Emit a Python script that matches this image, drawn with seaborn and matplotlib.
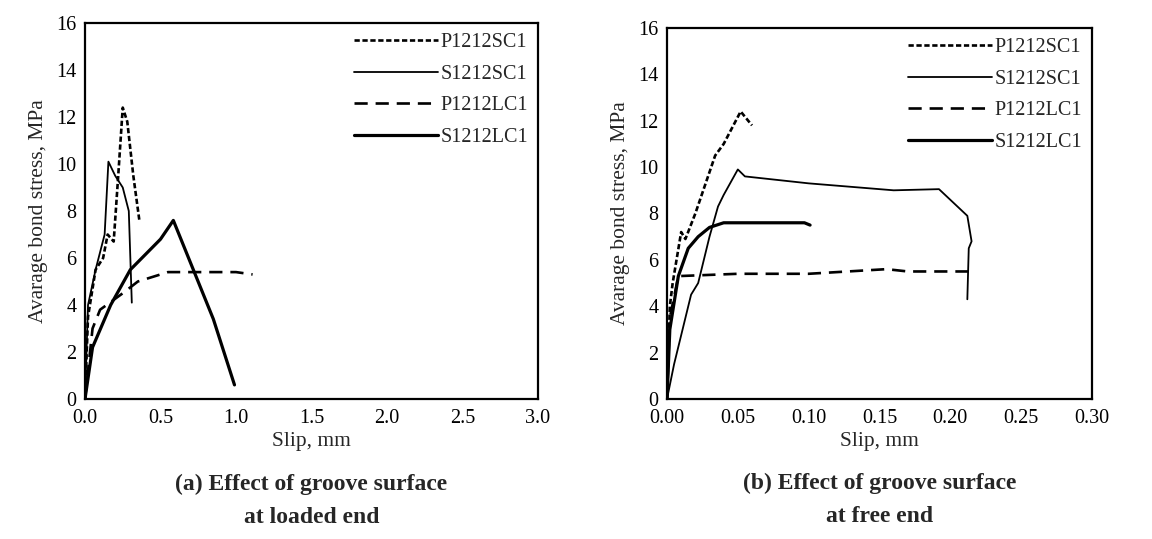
import matplotlib
matplotlib.use("Agg")
import matplotlib.pyplot as plt
import seaborn as sns
import pandas as pd

sns.set_theme(style="white")
plt.rcParams['font.family'] = ['Liberation Serif', 'DejaVu Serif']

labels = ["P1212SC1", "S1212SC1", "P1212LC1", "S1212LC1"]

# (a) loaded end
a_p_sc_x = [0.0, 0.02, 0.07, 0.12, 0.15, 0.19, 0.22, 0.25, 0.28, 0.32, 0.36]
a_p_sc_y = [0.0, 3.5, 5.5, 6.0, 7.0, 6.7, 9.5, 12.4, 11.8, 9.5, 7.6]
a_s_sc_x = [0.0, 0.02, 0.07, 0.13, 0.155, 0.2, 0.25, 0.29, 0.31]
a_s_sc_y = [0.0, 4.0, 5.5, 7.0, 10.1, 9.5, 9.0, 8.0, 4.1]
a_p_lc_x = [0.0, 0.05, 0.1, 0.25, 0.35, 0.55, 0.8, 1.0, 1.11]
a_p_lc_y = [0.0, 3.0, 3.8, 4.5, 5.0, 5.4, 5.4, 5.4, 5.3]
a_s_lc_x = [0.0, 0.05, 0.17, 0.3, 0.5, 0.585, 0.85, 0.99]
a_s_lc_y = [0.0, 2.2, 4.0, 5.5, 6.8, 7.6, 3.4, 0.6]

# (b) free end
b_p_sc_x = [0.0, 0.002, 0.004, 0.01, 0.013, 0.02, 0.034, 0.04, 0.052, 0.06]
b_p_sc_y = [0.0, 4.0, 5.0, 7.2, 6.9, 8.0, 10.5, 11.0, 12.4, 11.8]
b_s_sc_x = [0.0, 0.005, 0.017, 0.022, 0.03, 0.036, 0.04, 0.05, 0.055, 0.1,
            0.16, 0.192, 0.212, 0.215, 0.213, 0.212]
b_s_sc_y = [0.0, 1.5, 4.5, 5.0, 7.0, 8.3, 8.8, 9.9, 9.6, 9.3,
            9.0, 9.05, 7.9, 6.8, 6.5, 4.3]
b_p_lc_x = [0.0, 0.002, 0.008, 0.05, 0.1, 0.155, 0.17, 0.215]
b_p_lc_y = [0.0, 3.5, 5.3, 5.4, 5.4, 5.6, 5.5, 5.5]
b_s_lc_x = [0.0, 0.002, 0.008, 0.015, 0.022, 0.03, 0.04, 0.08, 0.097, 0.101]
b_s_lc_y = [0.0, 3.0, 5.3, 6.5, 7.0, 7.4, 7.6, 7.6, 7.6, 7.5]

styles = [
    dict(ls=(0, (2.0, 1.0)), lw=1.9),
    dict(ls="-", lw=1.3),
    dict(ls=(0, (5, 3)), lw=1.9),
    dict(ls="-", lw=2.3),
]

panels = [
    ([(a_p_sc_x, a_p_sc_y), (a_s_sc_x, a_s_sc_y), (a_p_lc_x, a_p_lc_y), (a_s_lc_x, a_s_lc_y)],
     3.0, [0.0, 0.5, 1.0, 1.5, 2.0, 2.5, 3.0], "{:.1f}",
     "(a) Effect of groove surface\nat loaded end"),
    ([(b_p_sc_x, b_p_sc_y), (b_s_sc_x, b_s_sc_y), (b_p_lc_x, b_p_lc_y), (b_s_lc_x, b_s_lc_y)],
     0.30, [0.0, 0.05, 0.10, 0.15, 0.20, 0.25, 0.30], "{:.2f}",
     "(b) Effect of groove surface\nat free end"),
]

fig = plt.figure(figsize=(11.52, 5.39), dpi=100)
rects = [[85 / 1152, 1 - 399 / 539, 453 / 1152, 376 / 539],
         [667 / 1152, 1 - 399 / 539, 425 / 1152, 371 / 539]]

for rect, (series, xmax, xt, fmt, title) in zip(rects, panels):
    ax = fig.add_axes(rect)
    for (x, y), lab, st in zip(series, labels, styles):
        df = pd.DataFrame({"x": x, "y": y})
        sns.lineplot(data=df, x="x", y="y", ax=ax, sort=False, estimator=None,
                     color="black", linestyle=st["ls"], linewidth=st["lw"], label=lab)
    ax.set_xlim(0, xmax)
    ax.set_ylim(0, 16)
    ax.set_xticks(xt)
    ax.set_xticklabels([fmt.format(v) for v in xt])
    ax.set_yticks(range(0, 17, 2))
    ax.tick_params(direction="in", length=5, width=1.3, labelsize=14.5, colors="black")
    ax.tick_params(axis="x", pad=7)
    ax.tick_params(axis="y", pad=6)
    for s in ax.spines.values():
        s.set_color("black")
        s.set_linewidth(1.6)
    ax.set_xlabel("Slip, mm", fontsize=15.5, labelpad=3)
    ax.set_ylabel("Avarage bond stress, MPa", fontsize=15.5, labelpad=6)
    ax.legend(loc="upper right", frameon=False, fontsize=14.5, handlelength=4.2,
              handletextpad=0.1, borderaxespad=0.1, labelspacing=0.62)
    ax.text(0.5, -0.2, title, transform=ax.transAxes, ha="center", va="top",
            fontsize=17, fontweight="bold", linespacing=1.75)

fig.savefig("out.png", dpi=100)
